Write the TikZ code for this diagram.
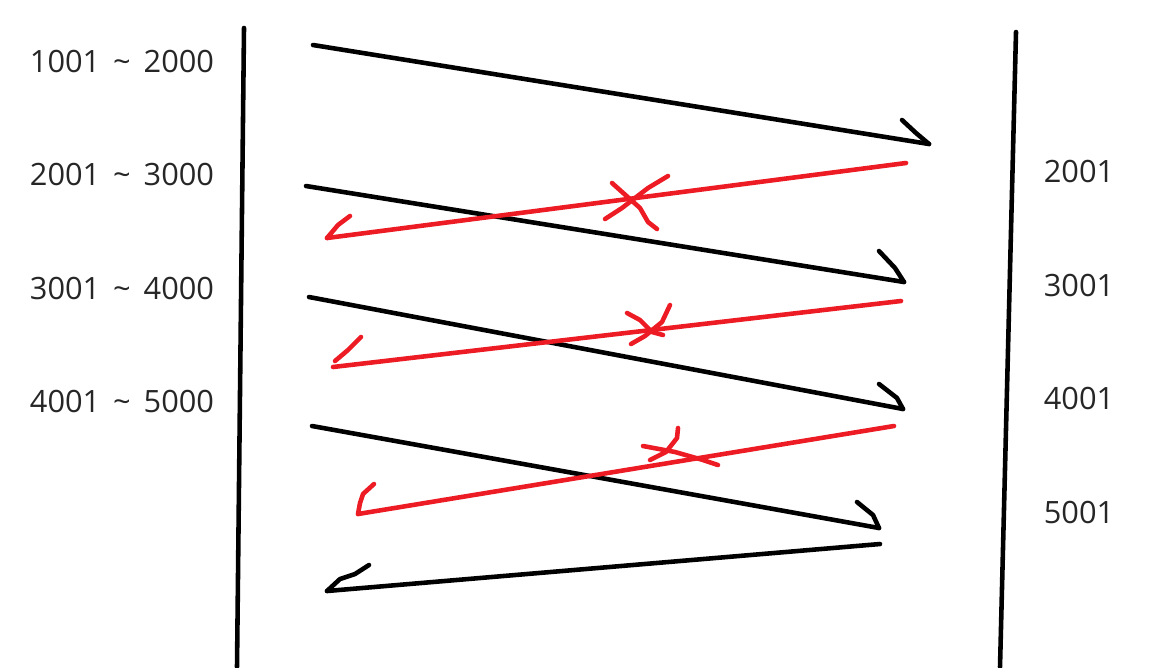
\documentclass[tikz,border=0pt]{standalone}
\usepackage{fontspec}
\setmainfont{Open Sans}
\definecolor{penred}{RGB}{237,28,36}
\newcommand{\rng}[2]{#1\hspace{0.42em}\textasciitilde\hspace{0.42em}#2}
\tikzset{
  pen/.style={line width=2.6pt, line cap=round, line join=round},
  redpen/.style={pen, draw=penred},
  lbl/.style={font=\fontsize{17.5}{20}\selectfont, text=black!85, inner sep=0pt}
}
\begin{document}
\begin{tikzpicture}[x=0.02cm, y=-0.02cm]
\useasboundingbox (0,0) rectangle (1165,667);

% walls
\coordinate (lt) at (244,28);
\coordinate (lb) at (237,667);
\coordinate (rt) at (1016,32);
\coordinate (rb) at (1000,667);
\draw[pen] (lt) -- (lb);
\draw[pen] (rt) -- (rb);

% ranges
\node[lbl] (r1) at (122,61) {\rng{1001}{2000}};
\node[lbl] (r2) at (122,174) {\rng{2001}{3000}};
\node[lbl] (r3) at (122,288) {\rng{3001}{4000}};
\node[lbl] (r4) at (122,401) {\rng{4001}{5000}};

\node[lbl] (n1) at (1079,171) {2001};
\node[lbl] (n2) at (1079,285) {3001};
\node[lbl] (n3) at (1079,398) {4001};
\node[lbl] (n4) at (1079,512) {5001};

% black zigzag
\coordinate (a1) at (313,45);  \coordinate (b1) at (929,144);
\coordinate (a2) at (306,186); \coordinate (b2) at (904,282);
\coordinate (a3) at (309,297); \coordinate (b3) at (903,409);
\coordinate (a4) at (312,426); \coordinate (b4) at (879,528);
\coordinate (a5) at (880,544); \coordinate (b5) at (327,591);
\draw[pen] (a1) -- (b1);
\draw[pen] (902,120) -- (916,133) -- (b1);
\draw[pen] (a2) -- (b2);
\draw[pen] (879,251) -- (895,268) -- (b2);
\draw[pen] (a3) -- (b3);
\draw[pen] (879,384) -- (897,398) -- (b3);
\draw[pen] (a4) -- (b4);
\draw[pen] (857,502) -- (873,515) -- (b4);
\draw[pen] (a5) -- (b5);
\draw[pen] (369,565) -- (355,574) -- (340,579) -- (b5);

% red tries
\coordinate (c1) at (906,163); \coordinate (d1) at (327,238);
\coordinate (c2) at (901,301); \coordinate (d2) at (333,367);
\coordinate (c3) at (894,426); \coordinate (d3) at (358,514);
\draw[redpen] (c1) -- (d1);
\draw[redpen] (350,216) -- (338,225) -- (d1);
\draw[redpen] (c2) -- (d2);
\draw[redpen] (361,337) -- (348,350) -- (335,361);
\draw[redpen] (c3) -- (d3);
\draw[redpen] (374,484) -- (363,494) -- (360,503) -- (d3);

% crosses
\draw[redpen] (612,183) -- (640,208) -- (648,222) -- (657,229);
\draw[redpen] (668,176) -- (648,188) -- (622,208) -- (605,219);
\draw[redpen] (627,313) -- (640,320) -- (652,332) -- (663,335);
\draw[redpen] (670,305) -- (662,322) -- (645,336) -- (631,344);
\draw[redpen] (643,446) -- (675,452) -- (703,460) -- (718,465);
\draw[redpen] (678,428) -- (677,438) -- (666,452) -- (650,460);
\end{tikzpicture}
\end{document}
